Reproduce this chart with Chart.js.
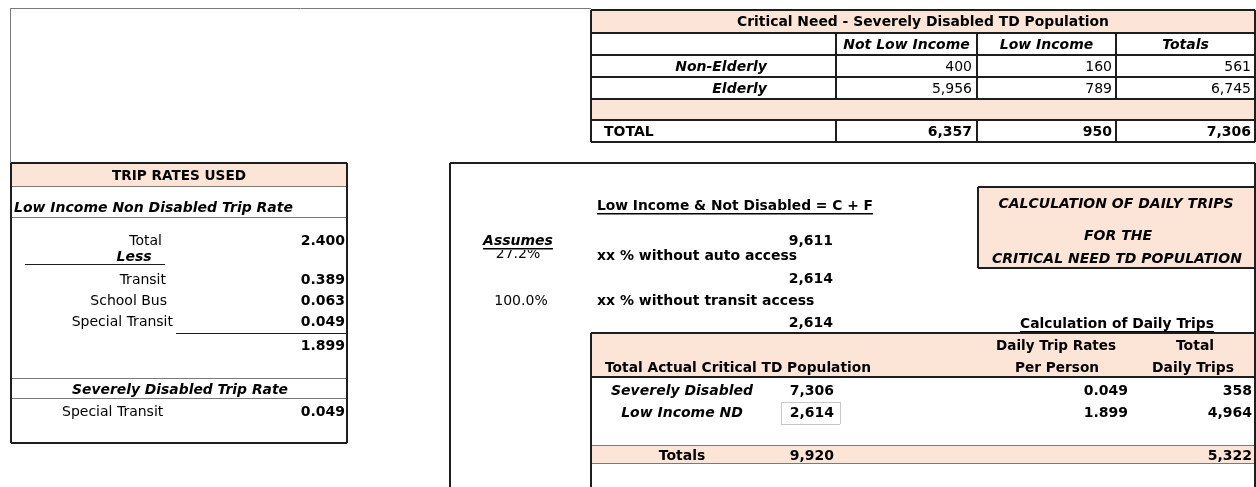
<!DOCTYPE html>
<html>
<head>
<meta charset="utf-8">
<title>Critical Need TD Population - Daily Trips</title>
<script src="https://cdn.jsdelivr.net/npm/chart.js@4"></script>
<style>
  html, body { margin: 0; padding: 0; background: #fff; }
  #sheet { display: block; }
</style>
</head>
<body>
<canvas id="sheet" width="1256" height="487"></canvas>
<script>
// Critical Need - Severely Disabled TD Population
const ageGroups = ['Non-Elderly', 'Elderly'];
const incomeCols = ['Not Low Income', 'Low Income', 'Totals'];
const notLowIncome = [400, 5956];
const lowIncome = [160, 789];
const groupTotals = [561, 6745];
const totalRow = [6357, 950, 7306];

// Trip rates used
const totalTripRate = 2.400;
const lessLabels = ['Transit', 'School Bus', 'Special Transit'];
const lessRates = [0.389, 0.063, 0.049];
const netTripRate = 1.899;
const severeLabel = 'Special Transit';
const severeTripRate = 0.049;

// Low income & not disabled
const lowIncomeNotDisabled = 9611;
const assumePct = [27.2, 100.0];
const assumeLabels = ['xx % without auto access', 'xx % without transit access'];
const afterAssume = [2614, 2614];

// Calculation of daily trips
const popLabels = ['Severely Disabled', 'Low Income ND'];
const popValues = [7306, 2614];
const perPersonRates = [0.049, 1.899];
const dailyTrips = [358, 4964];
const popTotal = 9920;
const tripsTotal = 5322;

const PEACH = '#fce4d6';
const DARK = '#1e1e1e';
const GRAY = '#7a7a7a';
const FONT = '"DejaVu Sans", Verdana, sans-serif';

const fmt = v => v.toLocaleString('en-US');
const rate = v => v.toFixed(3);
const pct = v => v.toFixed(1) + '%';

const sheetPlugin = {
  id: 'sheet',
  afterDraw(chart) {
    const ctx = chart.ctx;
    const xs = chart.scales.x, ys = chart.scales.y;
    const X = v => xs.getPixelForValue(v);
    const Y = v => ys.getPixelForValue(v);

    function line(x1, y1, x2, y2, color, w) {
      const o = (w % 2) ? 0.5 : 0;
      ctx.save();
      ctx.strokeStyle = color;
      ctx.lineWidth = w;
      ctx.beginPath();
      ctx.moveTo(Math.round(X(x1)) + (x1 === x2 ? o : 0), Math.round(Y(y1)) + (y1 === y2 ? o : 0));
      ctx.lineTo(Math.round(X(x2)) + (x1 === x2 ? o : 0), Math.round(Y(y2)) + (y1 === y2 ? o : 0));
      ctx.stroke();
      ctx.restore();
    }
    function fill(x1, y1, x2, y2, color) {
      ctx.fillStyle = color;
      ctx.fillRect(X(x1), Y(y1), X(x2) - X(x1), Y(y2) - Y(y1));
    }
    function rect(x1, y1, x2, y2, color, w) {
      line(x1, y1, x2, y1, color, w);
      line(x1, y2, x2, y2, color, w);
      line(x1, y1, x1, y2, color, w);
      line(x2, y1, x2, y2, color, w);
    }
    function txt(s, x, y, o) {
      o = o || {};
      ctx.save();
      ctx.font = (o.f || '') + ' ' + (o.s || 14) + 'px ' + FONT;
      ctx.fillStyle = '#000';
      ctx.textAlign = o.a || 'left';
      ctx.textBaseline = 'middle';
      let w = ctx.measureText(s).width;
      if (o.w && w > o.w) w = o.w;
      if (o.w) ctx.fillText(s, X(x), Y(y) + 1, o.w); else ctx.fillText(s, X(x), Y(y) + 1);
      if (o.u) {
        let left = X(x);
        if (ctx.textAlign === 'center') left -= w / 2;
        if (ctx.textAlign === 'right') left -= w;
        ctx.fillRect(left, Math.round(Y(y)) + 8, w, 1.5);
      }
      ctx.restore();
    }

    // outer thin frame
    line(10, 8, 591, 8, GRAY, 1);
    line(10, 8, 10, 163, GRAY, 1);

    // ---- top table
    const tc = [591, 836, 977, 1116, 1255];
    const tr = [10, 33, 55, 77, 99, 120, 142];
    fill(591, tr[0], 1255, tr[1], PEACH);
    fill(591, tr[4], 1255, tr[5], PEACH);
    for (let i = 1; i < tr.length - 1; i++) line(591, tr[i], 1255, tr[i], DARK, 2);
    for (let c = 1; c < 4; c++) {
      line(tc[c], tr[1], tc[c], tr[4], DARK, 2);
      line(tc[c], tr[5], tc[c], tr[6], DARK, 2);
    }
    rect(591, tr[0], 1255, tr[6], DARK, 2);
    txt('Critical Need - Severely Disabled TD Population', 923, 21, { f: 'bold', a: 'center', w: 372 });
    incomeCols.forEach((c, i) => {
      txt(c, (tc[i + 1] + tc[i + 2]) / 2, 44, { f: 'italic bold', a: 'center', w: [128, 96, 50][i] });
    });
    ageGroups.forEach((g, i) => {
      const y = 66 + i * 22;
      txt(g, 767, y, { f: 'italic bold', a: 'right' });
      txt(fmt(notLowIncome[i]), 972, y, { a: 'right' });
      txt(fmt(lowIncome[i]), 1112, y, { a: 'right' });
      txt(fmt(groupTotals[i]), 1251, y, { a: 'right' });
    });
    txt('TOTAL', 604, 131, { f: 'bold' });
    totalRow.forEach((v, i) => txt(fmt(v), [972, 1112, 1251][i], 131, { f: 'bold', a: 'right' }));

    // ---- trip rates box
    fill(11, 163, 347, 186, PEACH);
    line(11, 186, 347, 186, GRAY, 1);
    line(11, 217, 347, 217, GRAY, 1);
    line(11, 378, 347, 378, GRAY, 1);
    line(11, 398, 347, 398, GRAY, 1);
    rect(11, 163, 347, 443, DARK, 2);
    txt('TRIP RATES USED', 179, 175, { f: 'bold', a: 'center', w: 134 });
    txt('Low Income Non Disabled Trip Rate', 14, 207, { f: 'italic bold', w: 290 });
    txt('Total', 162, 240, { a: 'right' });
    txt(rate(totalTripRate), 345, 240, { f: 'bold', a: 'right' });
    txt('Less', 134, 256, { f: 'italic bold', a: 'center' });
    line(25, 264, 165, 264, DARK, 1);
    lessLabels.forEach((l, i) => {
      const y = 279 + i * 21;
      txt(l, [166, 167, 173][i], y, { a: 'right' });
      txt(rate(lessRates[i]), 345, y, { f: 'bold', a: 'right' });
    });
    line(176, 333, 347, 333, DARK, 1);
    txt(rate(netTripRate), 345, 345, { f: 'bold', a: 'right' });
    txt('Severely Disabled Trip Rate', 180, 389, { f: 'italic bold', a: 'center', w: 216 });
    txt(severeLabel, 62, 411);
    txt(rate(severeTripRate), 345, 411, { f: 'bold', a: 'right' });

    // ---- right calculation box
    line(450, 163, 1255, 163, DARK, 2);
    line(450, 163, 450, 487, DARK, 2);
    line(1255, 163, 1255, 487, DARK, 2);

    txt('Low Income & Not Disabled = C + F', 597, 205, { f: 'bold', w: 276, u: true });
    txt('Assumes', 518, 240, { f: 'italic bold', a: 'center', u: true });
    txt(fmt(lowIncomeNotDisabled), 833, 240, { f: 'bold', a: 'right' });
    // first percentage is cut off at the top by the row above
    ctx.save();
    ctx.beginPath();
    ctx.rect(X(460), Y(250), X(580) - X(460), Y(270) - Y(250));
    ctx.clip();
    txt(pct(assumePct[0]), 518, 253, { a: 'center' });
    ctx.restore();
    txt(assumeLabels[0], 597, 255, { f: 'bold', w: 206 });
    txt(fmt(afterAssume[0]), 833, 278, { f: 'bold', a: 'right' });
    txt(pct(assumePct[1]), 521, 300, { a: 'center' });
    txt(assumeLabels[1], 597, 300, { f: 'bold', w: 222 });
    txt(fmt(afterAssume[1]), 833, 322, { f: 'bold', a: 'right' });

    fill(978, 187, 1255, 268, PEACH);
    rect(978, 187, 1255, 268, DARK, 2);
    txt('CALCULATION OF DAILY TRIPS', 1116, 203, { f: 'italic bold', a: 'center', w: 236 });
    txt('FOR THE', 1118, 235, { f: 'italic bold', a: 'center' });
    txt('CRITICAL NEED TD POPULATION', 1117, 258, { f: 'italic bold', a: 'center', w: 250 });

    txt('Calculation of Daily Trips', 1117, 323, { f: 'bold', a: 'center', w: 194, u: true });

    // ---- daily trips table
    fill(591, 333, 1255, 377, PEACH);
    line(591, 333, 1255, 333, DARK, 2);
    line(591, 377, 1255, 377, DARK, 2);
    fill(591, 445, 1255, 463, PEACH);
    line(591, 445, 1255, 445, GRAY, 1);
    line(591, 463, 1255, 463, GRAY, 1);
    line(591, 333, 591, 487, DARK, 2);
    line(1255, 333, 1255, 487, DARK, 2);

    txt('Daily Trip Rates', 1056, 345, { f: 'bold', a: 'center', w: 120 });
    txt('Total', 1195, 345, { f: 'bold', a: 'center' });
    txt('Total Actual Critical TD Population', 605, 367, { f: 'bold', w: 266 });
    txt('Per Person', 1057, 367, { f: 'bold', a: 'center', w: 84 });
    txt('Daily Trips', 1193, 367, { f: 'bold', a: 'center', w: 82 });

    rect(781, 402, 840, 424, '#c8c8c8', 1);
    popLabels.forEach((l, i) => {
      const y = 390 + i * 22;
      txt(l, 682, y, { f: 'italic bold', a: 'center', w: 142 });
      txt(fmt(popValues[i]), 834, y, { f: 'bold', a: 'right' });
      txt(rate(perPersonRates[i]), 1128, y, { f: 'bold', a: 'right' });
      txt(fmt(dailyTrips[i]), 1252, y, { f: 'bold', a: 'right' });
    });
    txt('Totals', 682, 455, { f: 'bold', a: 'center' });
    txt(fmt(popTotal), 834, 455, { f: 'bold', a: 'right' });
    txt(fmt(tripsTotal), 1252, 455, { f: 'bold', a: 'right' });
  }
};

const sheetChart = new Chart(document.getElementById('sheet'), {
  type: 'scatter',
  data: { datasets: [] },
  options: {
    responsive: false,
    animation: false,
    devicePixelRatio: 1,
    events: [],
    layout: { padding: 0 },
    plugins: {
      legend: { display: false },
      tooltip: { enabled: false }
    },
    scales: {
      x: { type: 'linear', min: 0, max: 1256, display: false },
      y: { type: 'linear', min: 0, max: 487, reverse: true, display: false }
    }
  },
  plugins: [sheetPlugin]
});
</script>
</body>
</html>
